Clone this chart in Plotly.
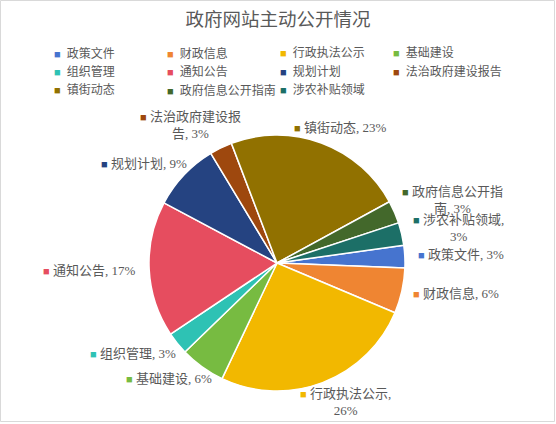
import plotly.graph_objects as go

# ---- data ----
categories = ["政策文件", "财政信息", "行政执法公示", "基础建设", "组织管理", "通知公告",
              "规划计划", "法治政府建设报告", "镇街动态", "政府信息公开指南", "涉农补贴领域"]
values = [1, 2, 9, 2, 1, 6, 3, 1, 8, 1, 1]
colors = ["#4674CF", "#EF8532", "#F2B800", "#77BB41", "#2EC2B4", "#E64D5F",
          "#254381", "#9E480E", "#917100", "#43682B", "#1C6F67"]

# label layout (pixel centres) and wrap points
label_pos = [(461, 255), (456, 293), (345, 402), (169, 378), (133, 353), (89, 270),
             (144, 163), (190, 125), (340, 127), (452, 200), (458, 228)]
label_wrap = [None, None, 7, None, None, None, None, 7, None, 7, 7]

W, H = 556, 424
FONT = "Liberation Serif, Noto Sans CJK SC, serif"
GREY = "#595959"

total = sum(values)
cx, cy, r = 277, 263, 128

fig = go.Figure(go.Pie(
    labels=categories, values=values, sort=False, direction="clockwise",
    rotation=82, textinfo="none", hoverinfo="label+percent", showlegend=False,
    marker=dict(colors=colors, line=dict(color="white", width=1.5)),
    domain=dict(x=[(cx - r) / W, (cx + r) / W], y=[1 - (cy + r) / H, 1 - (cy - r) / H]),
))

anns = []
# data labels
for name, v, col, (px, py), wrap in zip(categories, values, colors, label_pos, label_wrap):
    txt = f"{name}, {round(v / total * 100)}%"
    if wrap:
        txt = txt[:wrap] + "<br>" + txt[wrap:].strip()
    txt = f"<span style='color:{col};font-size:11px'>■</span> " + txt
    anns.append(dict(x=px / W, y=1 - py / H, xref="paper", yref="paper", text=txt,
                     showarrow=False, xanchor="center", yanchor="middle",
                     font=dict(family=FONT, size=13, color=GREY)))

# legend (4 columns grid)
LX0, LY0, LDX, LDY = 52, 53, 113, 18.5
for i, (name, col) in enumerate(zip(categories, colors)):
    c, rw = i % 4, i // 4
    txt = f"<span style='color:{col};font-size:11px'>■</span>&nbsp; {name}"
    anns.append(dict(x=(LX0 + c * LDX) / W, y=1 - (LY0 + rw * LDY) / H, xref="paper", yref="paper",
                     text=txt, showarrow=False, xanchor="left", yanchor="middle",
                     font=dict(family=FONT, size=12, color=GREY)))

fig.update_layout(
    width=W, height=H,
    margin=dict(l=0, r=0, t=0, b=0),
    paper_bgcolor="white", plot_bgcolor="white",
    title=dict(text="政府网站主动公开情况", x=0.5, xanchor="center", y=1 - 20 / H, yanchor="middle",
               font=dict(family=FONT, size=18.5, color=GREY)),
    showlegend=False,
    annotations=anns,
    shapes=[dict(type="rect", xref="paper", yref="paper", x0=0.5 / W, x1=554.5 / W,
                 y0=1 - 421.5 / H, y1=1 - 0.5 / H,
                 line=dict(color="#D9D9D9", width=1))],
)

fig.write_html("out.html", config={"displayModeBar": False},
               post_script="document.body.style.margin='0';")
